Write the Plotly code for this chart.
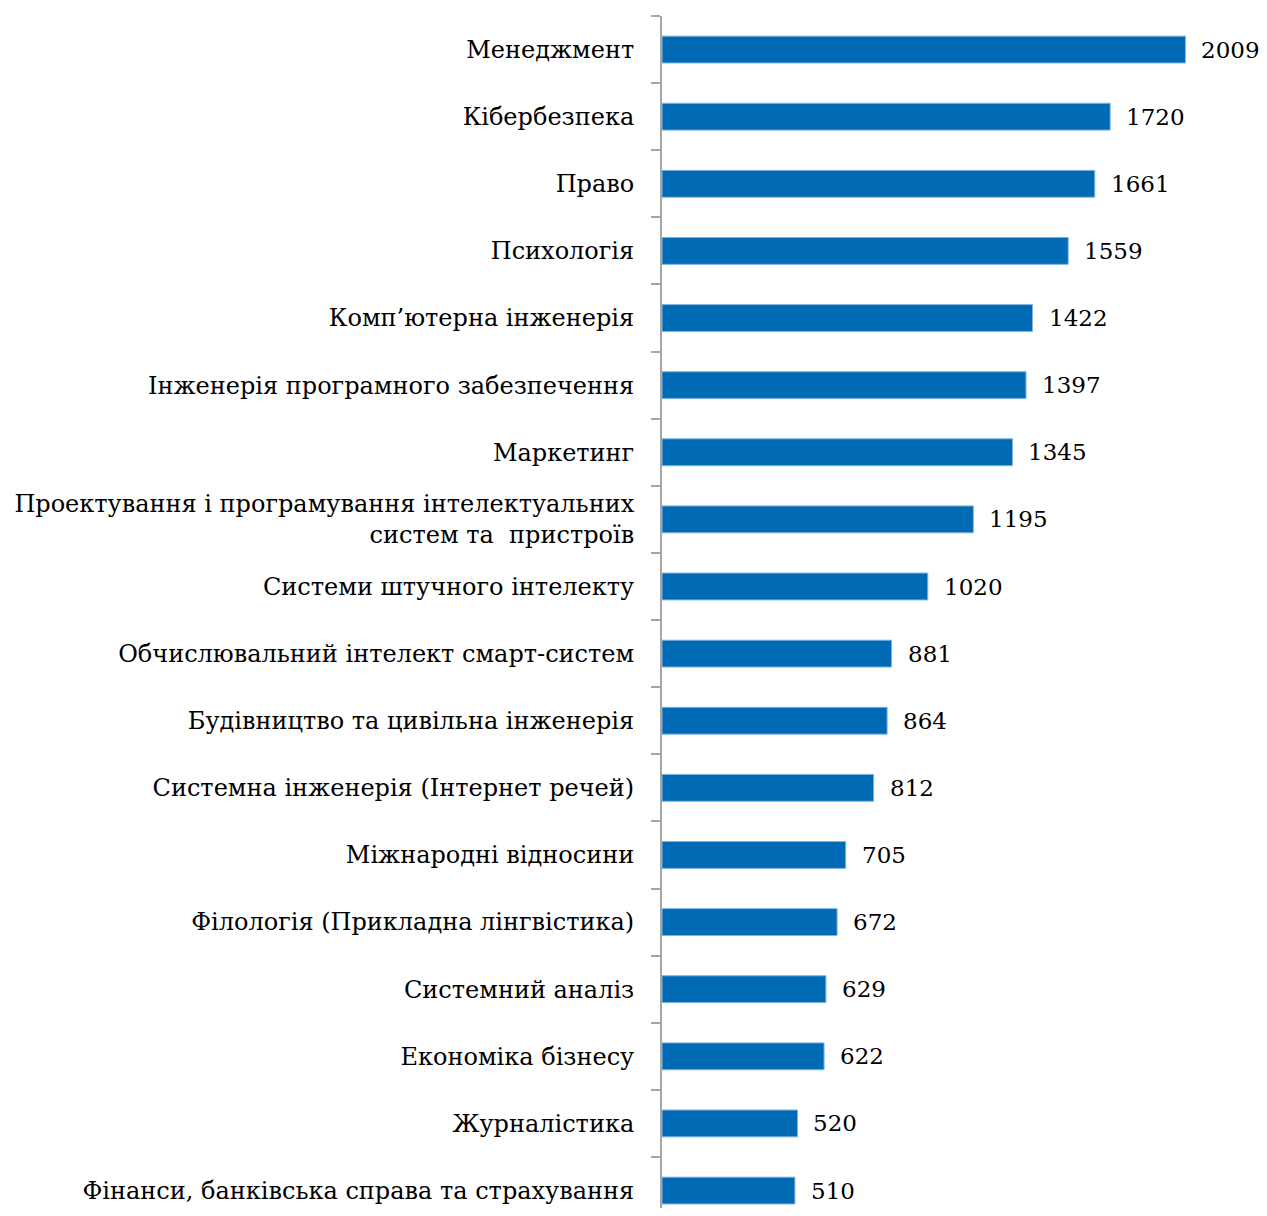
import plotly.graph_objects as go

categories = [
    "Менеджмент",
    "Кібербезпека",
    "Право",
    "Психологія",
    "Комп’ютерна інженерія",
    "Інженерія програмного забезпечення",
    "Маркетинг",
    "Проектування і програмування інтелектуальних<br>систем та  пристроїв",
    "Системи штучного інтелекту",
    "Обчислювальний інтелект смарт-систем",
    "Будівництво та цивільна інженерія",
    "Системна інженерія (Інтернет речей)",
    "Міжнародні відносини",
    "Філологія (Прикладна лінгвістика)",
    "Системний аналіз",
    "Економіка бізнесу",
    "Журналістика",
    "Фінанси, банківська справа та страхування",
]
values = [2009, 1720, 1661, 1559, 1422, 1397, 1345, 1195, 1020,
          881, 864, 812, 705, 672, 629, 622, 520, 510]

FONT = "DejaVu Serif"
BAR = "#006AB5"

fig = go.Figure()
fig.add_trace(go.Bar(
    y=categories, x=values, orientation="h",
    marker={"color": BAR, "line": {"color": "#7FB2E0", "width": 1}},
    width=0.4, hoverinfo="x+y",
))
for c, v in zip(categories, values):
    fig.add_annotation(
        x=v, y=c, text=str(v), showarrow=False,
        xanchor="left", xshift=14, yshift=0,
        font={"family": FONT, "size": 23, "color": "#000000"},
    )

# page body has an 8px margin, so the figure is shrunk to fit the window
fig.update_layout(
    width=1259, height=1200,
    margin={"l": 654, "r": 0, "t": 8, "b": 0},
    paper_bgcolor="white", plot_bgcolor="white",
    showlegend=False,
    font={"family": FONT, "size": 24, "color": "#000000"},
    xaxis={"range": [0, 2322], "visible": False, "fixedrange": True},
    yaxis={
        "categoryorder": "array",
        "categoryarray": categories[::-1],
        "range": [-0.26, 17.5],
        "tickson": "boundaries",
        "ticks": "outside", "ticklen": 9, "tickwidth": 2, "tickcolor": "#A6A6A6",
        "showline": True, "linecolor": "#A6A6A6", "linewidth": 2,
        "showgrid": False, "zeroline": False,
        "ticklabelstandoff": 21,
        "tickfont": {"family": FONT, "size": 24, "color": "#000000"},
    },
)

fig.write_html("out.html")
